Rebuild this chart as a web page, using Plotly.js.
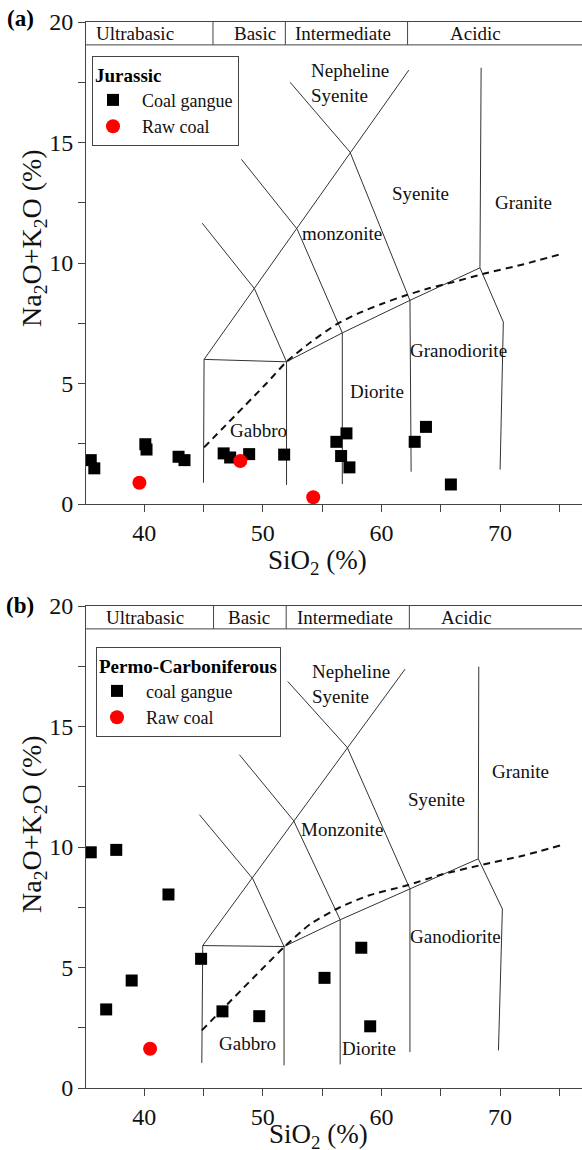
<!DOCTYPE html>
<html>
<head>
<meta charset="utf-8">
<script src="https://cdn.plot.ly/plotly-3.0.1.min.js"></script>
<style>html,body{margin:0;padding:0;background:#fff;}#chart{width:582px;height:1150px;}</style>
</head>
<body>
<div id="chart"></div>
<script>
// ---------- DATA ----------
// Panel (a) Jurassic
const jurGangueSiO2 = [35.5, 35.8, 40.1, 40.2, 42.9, 43.4, 46.7, 47.25, 48.85, 51.8, 56.2, 57.05, 56.6, 57.3, 62.8, 63.75, 65.85];
const jurGangueAlk  = [1.82, 1.48, 2.48, 2.26, 1.96, 1.82, 2.10, 1.93, 2.07, 2.05, 2.58, 2.93, 1.99, 1.52, 2.58, 3.2, 0.81];
const jurCoalSiO2 = [39.6, 48.1, 54.25];
const jurCoalAlk  = [0.88, 1.78, 0.28];

// Panel (b) Permo-Carboniferous
const pcGangueSiO2 = [35.5, 37.65, 42.05, 44.8, 38.95, 36.8, 46.6, 49.7, 55.2, 58.3, 59.05];
const pcGangueAlk  = [9.78, 9.88, 8.03, 5.36, 4.46, 3.26, 3.18, 2.98, 4.57, 5.82, 2.56];
const pcCoalSiO2 = [40.5];
const pcCoalAlk  = [1.63];

// Classification boundaries (SiO2, Na2O+K2O) for each panel
const aBox   = {x:[45.0,45.05,52.0,52.0], y:[0.88,6.0,5.9,0.79]};
const aDiag  = {x:[45.05,62.3], y:[6.0,18.0]};
const aGab   = {x:[44.9,49.3,52.0], y:[11.65,8.93,5.9]};
const aMonz  = {x:[48.2,52.9,56.7,56.7], y:[14.3,11.4,7.1,0.83]};
const aSyen  = {x:[52.3,57.35,62.4,62.5], y:[17.5,14.6,8.45,1.34]};
const aAlk   = {x:[52.0,56.7,62.4,68.3], y:[5.9,7.1,8.45,9.8]};
const aGran  = {x:[68.4,68.3,70.27,70.0], y:[18.1,9.8,7.55,1.43]};
const aDash  = {x:[45.05,50.3,52.0,54.0,56.2,58.0,60.0,62.0,64.0,66.0,68.6,72.0,75.2], y:[2.35,5.0,5.9,6.7,7.45,7.9,8.3,8.65,8.95,9.2,9.55,9.95,10.38]};

const bBox   = {x:[44.86,44.94,51.79,51.79], y:[1.04,5.91,5.87,0.94]};
const bDiag  = {x:[44.94,61.99], y:[5.91,17.38]};
const bGab   = {x:[44.66,49.16,51.79], y:[11.34,8.68,5.87]};
const bMonz  = {x:[48.03,52.6,56.52,56.52], y:[13.83,11.09,6.98,0.98]};
const bSyen  = {x:[52.1,57.12,62.4,62.4], y:[16.87,14.13,8.26,1.49]};
const bAlk   = {x:[51.79,56.52,62.4,68.16], y:[5.87,6.98,8.26,9.51]};
const bGran  = {x:[68.2,68.16,70.19,69.86], y:[17.48,9.51,7.43,1.56]};
const bDash  = {x:[44.86,51.8,54.0,56.5,59.0,62.1,65.0,68.2,72.0,75.05], y:[2.39,5.85,6.8,7.5,8.0,8.4,8.85,9.23,9.65,10.06]};

// Rock-name labels
const aLabels = [
  {t:'Nepheline<br>Syenite', x:53.9, y:17.47, left:true},
  {t:'Syenite', x:63.26, y:12.9}, {t:'Granite', x:71.94, y:12.53},
  {t:'monzonite', x:56.66, y:11.23}, {t:'Granodiorite', x:66.49, y:6.39},
  {t:'Diorite', x:59.6, y:4.66}, {t:'Gabbro', x:49.63, y:3.07}
];
const bLabels = [
  {t:'Nepheline<br>Syenite', x:53.99, y:16.76, left:true},
  {t:'Granite', x:71.69, y:13.12}, {t:'Syenite', x:64.67, y:11.98},
  {t:'Monzonite', x:56.66, y:10.73}, {t:'Ganodiorite', x:66.2, y:6.28},
  {t:'Gabbro', x:48.7, y:1.85}, {t:'Diorite', x:58.98, y:1.63}
];
// Top classification band
const bandNames = ['Ultrabasic','Basic','Intermediate','Acidic'];
const aBandX = [39.2, 49.35, 56.73, 67.95];
const bBandX = [40.08, 48.8, 56.9, 67.2];
const aBandDiv = [45.8, 51.9, 62.2];
const bBandDiv = [45.85, 51.97, 62.35];
const bandLow = 19.05;

// ---------- BUILD ----------
const FONT = "'Liberation Serif', 'Times New Roman', Times, serif";
const lineCol = '#333';
const traces = [];
function bound(o, xa, ya){ traces.push({x:o.x, y:o.y, xaxis:xa, yaxis:ya, mode:'lines', line:{color:lineCol, width:1}, showlegend:false, hoverinfo:'skip'}); }
[aBox,aDiag,aGab,aMonz,aSyen,aAlk,aGran].forEach(o=>bound(o,'x','y'));
[bBox,bDiag,bGab,bMonz,bSyen,bAlk,bGran].forEach(o=>bound(o,'x2','y2'));
traces.push({x:aDash.x, y:aDash.y, xaxis:'x', yaxis:'y', mode:'lines', line:{color:'#111', width:2, dash:'7px,5px', shape:'spline', smoothing:0.6}, showlegend:false, hoverinfo:'skip'});
traces.push({x:bDash.x, y:bDash.y, xaxis:'x2', yaxis:'y2', mode:'lines', line:{color:'#111', width:2, dash:'7px,5px', shape:'spline', smoothing:0.6}, showlegend:false, hoverinfo:'skip'});

const NB = '\u00a0\u00a0';
traces.push({x:jurGangueSiO2, y:jurGangueAlk, xaxis:'x', yaxis:'y', mode:'markers', name:NB+'Coal gangue', legend:'legend', marker:{symbol:'square', size:12, color:'#000'}});
traces.push({x:jurCoalSiO2, y:jurCoalAlk, xaxis:'x', yaxis:'y', mode:'markers', name:NB+'Raw coal', legend:'legend', marker:{symbol:'circle', size:14, color:'#ff0000'}});
traces.push({x:pcGangueSiO2, y:pcGangueAlk, xaxis:'x2', yaxis:'y2', mode:'markers', name:NB+'coal gangue', legend:'legend2', marker:{symbol:'square', size:12, color:'#000'}});
traces.push({x:pcCoalSiO2, y:pcCoalAlk, xaxis:'x2', yaxis:'y2', mode:'markers', name:NB+'Raw coal', legend:'legend2', marker:{symbol:'circle', size:14, color:'#ff0000'}});

const annotations = [];
function lab(L, xr, yr){ L.forEach(l=>annotations.push({text:l.t, x:l.x, y:l.y, xref:xr, yref:yr, showarrow:false, xanchor:l.left?'left':'center', yanchor:'middle', align:'left', font:{family:FONT, size:19, color:'#111'}})); }
lab(aLabels,'x','y'); lab(bLabels,'x2','y2');
function band(xs, xr, yr){ bandNames.forEach((n,i)=>annotations.push({text:n, x:xs[i], y:(bandLow+20)/2, xref:xr, yref:yr, showarrow:false, xanchor:'center', yanchor:'middle', font:{family:FONT, size:19, color:'#111'}})); }
band(aBandX,'x','y'); band(bBandX,'x2','y2');

const W=582, H=1150, L=86;
function px(p){ return (p-L)/(W-L); }
function py(p){ return 1-p/H; }
const xtFont = {family:FONT, size:27, color:'#111'};
const ytFont = {family:FONT, size:28, color:'#111'};
annotations.push({text:'<b>(a)</b>', x:px(20), y:py(19), xref:'paper', yref:'paper', showarrow:false, xanchor:'center', yanchor:'middle', font:{family:FONT, size:23, color:'#000'}});
annotations.push({text:'<b>(b)</b>', x:px(20), y:py(605), xref:'paper', yref:'paper', showarrow:false, xanchor:'center', yanchor:'middle', font:{family:FONT, size:23, color:'#000'}});
annotations.push({text:'SiO<sub>2</sub> (%)', x:px(317), y:py(562), xref:'paper', yref:'paper', showarrow:false, xanchor:'center', yanchor:'middle', font:xtFont});
annotations.push({text:'SiO<sub>2</sub> (%)', x:px(318), y:py(1136), xref:'paper', yref:'paper', showarrow:false, xanchor:'center', yanchor:'middle', font:xtFont});
annotations.push({text:'Na<sub>2</sub>O+K<sub>2</sub>O (%)', x:px(33), y:py(238), xref:'paper', yref:'paper', showarrow:false, textangle:-90, xanchor:'center', yanchor:'middle', font:ytFont});
annotations.push({text:'Na<sub>2</sub>O+K<sub>2</sub>O (%)', x:px(33), y:py(824), xref:'paper', yref:'paper', showarrow:false, textangle:-90, xanchor:'center', yanchor:'middle', font:ytFont});

const shapes = [];
function bandShapes(divs, xr, yr){
  shapes.push({type:'line', xref:xr+' domain', yref:yr, x0:0, x1:1, y0:bandLow, y1:bandLow, line:{color:'#444', width:1}});
  divs.forEach(d=>shapes.push({type:'line', xref:xr, yref:yr, x0:d, x1:d, y0:bandLow, y1:20, line:{color:'#444', width:1}}));
}
bandShapes(aBandDiv,'x','y'); bandShapes(bBandDiv,'x2','y2');

const xr = [35.1, 76.9];
function xax(anchor){ return {range:xr, anchor:anchor, showline:true, linecolor:'#444', linewidth:1, mirror:true, ticks:'outside', ticklen:7, tickcolor:'#444', tickvals:[40,50,60,70], showgrid:false, zeroline:false, tickfont:{family:FONT, size:24, color:'#111'}, minor:{tickvals:[45,55,65,75], ticks:'outside', ticklen:7, tickcolor:'#444', showgrid:false}}; }
function yax(anchor, dom){ return {range:[0,20], domain:dom, anchor:anchor, showline:true, linecolor:'#444', linewidth:1, ticks:'outside', ticklen:7, tickcolor:'#444', dtick:5, showgrid:false, zeroline:false, tickfont:{family:FONT, size:24, color:'#111'}, minor:{dtick:2.5, ticks:'outside', ticklen:7, tickcolor:'#444', showgrid:false}}; }

const legStyle = {bordercolor:'#444', borderwidth:1, bgcolor:'rgba(255,255,255,0)', font:{family:FONT, size:18, color:'#111'}, xanchor:'left', yanchor:'top', itemwidth:30, tracegroupgap:0};
const layout = {
  width:W, height:H, margin:{l:L, r:0, t:0, b:0}, paper_bgcolor:'#fff', plot_bgcolor:'#fff',
  xaxis: xax('y'), yaxis: yax('x', [py(504), py(22)]),
  xaxis2: xax('y2'), yaxis2: yax('x2', [py(1088), py(606)]),
  legend: Object.assign({}, legStyle, {x:px(92), y:py(56), title:{text:'<b>Jurassic</b>', font:{family:FONT, size:19, color:'#000'}}}),
  legend2: Object.assign({}, legStyle, {x:px(96), y:py(647), title:{text:'<b>Permo-Carboniferous</b>', font:{family:FONT, size:19, color:'#000'}}}),
  annotations: annotations, shapes: shapes, showlegend:true
};
Plotly.newPlot('chart', traces, layout, {staticPlot:true, displayModeBar:false});
</script>
</body>
</html>
